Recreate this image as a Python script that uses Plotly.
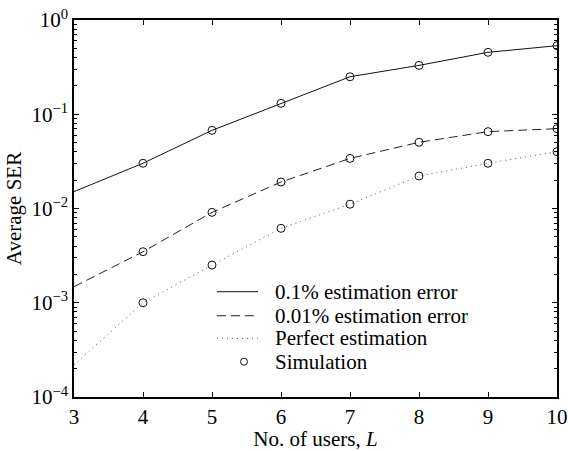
import plotly.graph_objects as go

users = [3, 4, 5, 6, 7, 8, 9, 10]
ser_01 = [0.0151, 0.0302, 0.0675, 0.1306, 0.25, 0.33, 0.454, 0.534]
ser_001 = [0.00148, 0.00348, 0.0091, 0.0191, 0.034, 0.0504, 0.0654, 0.0703]
ser_perfect = [0.000219, 0.001, 0.00251, 0.00616, 0.0111, 0.0221, 0.0302, 0.0401]
sim_users = [4, 5, 6, 7, 8, 9, 10]
sim_01 = [0.0302, 0.0675, 0.1306, 0.25, 0.33, 0.454, 0.534]
sim_001 = [0.00348, 0.0091, 0.0191, 0.034, 0.0504, 0.0654, 0.0703]
sim_perfect = [0.001, 0.00251, 0.00616, 0.0111, 0.0221, 0.0302, 0.0401]
ytick_vals = [1e-4, 1e-3, 1e-2, 1e-1, 1e0]
ytick_text = ["10<sup>−4</sup>", "10<sup>−3</sup>", "10<sup>−2</sup>", "10<sup>−1</sup>", "10<sup>0</sup>"]
legend_labels = ["0.1% estimation error", "0.01% estimation error", "Perfect estimation", "Simulation"]

FONT = "Liberation Serif"
FS = 21
DASH_SOLID = "solid"
DASH_DASHED = "9px,5px"
DASH_DOTTED = "1px,4px"

fig = go.Figure()
fig.add_trace(go.Scatter(x=users, y=ser_01, mode="lines", name=legend_labels[0],
                         line=dict(color="#111111", width=1, dash=DASH_SOLID)))
fig.add_trace(go.Scatter(x=users, y=ser_001, mode="lines", name=legend_labels[1],
                         line=dict(color="#222222", width=1, dash=DASH_DASHED)))
fig.add_trace(go.Scatter(x=users, y=ser_perfect, mode="lines", name=legend_labels[2],
                         line=dict(color="#555555", width=1, dash=DASH_DOTTED)))
sx = sim_users + [None] + sim_users + [None] + sim_users
sy = sim_01 + [None] + sim_001 + [None] + sim_perfect
fig.add_trace(go.Scatter(x=sx, y=sy, mode="markers", name=legend_labels[3],
                         marker=dict(symbol="circle-open", size=8, color="#111111",
                                     line=dict(width=1, color="#111111"))))

# manual legend (paper coordinates)
row_y = [0.2793, 0.2156, 0.1557, 0.0936]
line_x0, line_x1, text_x, mark_x = 0.296, 0.381, 0.412, 0.352
styles = [("#111111", DASH_SOLID), ("#222222", DASH_DASHED), ("#555555", DASH_DOTTED)]
for i, (col, dsh) in enumerate(styles):
    fig.add_shape(type="line", xref="paper", yref="paper", x0=line_x0, x1=line_x1,
                  y0=row_y[i], y1=row_y[i], line=dict(color=col, width=1, dash=dsh))
fig.add_shape(type="circle", xref="paper", yref="paper", xsizemode="pixel", ysizemode="pixel",
              xanchor=mark_x, yanchor=row_y[3], x0=-3.5, x1=3.5, y0=-3.5, y1=3.5,
              line=dict(color="#111111", width=1))
for i, lab in enumerate(legend_labels):
    fig.add_annotation(text=lab, xref="paper", yref="paper", x=text_x, y=row_y[i],
                       xanchor="left", yanchor="middle", showarrow=False,
                       font=dict(family=FONT, size=FS, color="black"))

minor_vals = [m * 10 ** e for e in range(-4, 0) for m in range(2, 10)]

fig.update_layout(
    width=568, height=451,
    margin=dict(l=74, r=11, t=20, b=54),
    paper_bgcolor="white", plot_bgcolor="white",
    font=dict(family=FONT, size=FS, color="black"),
    showlegend=False,
    xaxis=dict(range=[3, 10], tickvals=users, ticks="inside", ticklen=5,
               showline=True, mirror="ticks", linecolor="black", linewidth=1.5,
               tickcolor="black", showgrid=False, zeroline=False, automargin=False,
               tickfont=dict(family=FONT, size=FS),
               title=dict(text="No. of users, <i>L</i>", font=dict(family=FONT, size=FS), standoff=4)),
    yaxis=dict(type="log", range=[-4, 0], tickvals=ytick_vals, ticktext=ytick_text,
               ticks="inside", ticklen=5, showline=True, mirror="ticks",
               linecolor="black", linewidth=1.5, tickcolor="black", showgrid=False,
               zeroline=False, automargin=False, tickfont=dict(family=FONT, size=FS),
               minor=dict(tickvals=minor_vals, ticks="inside", ticklen=3, tickcolor="black", showgrid=False),
               title=dict(text="Average SER", font=dict(family=FONT, size=FS), standoff=4)),
)

fig.write_html("out.html")
